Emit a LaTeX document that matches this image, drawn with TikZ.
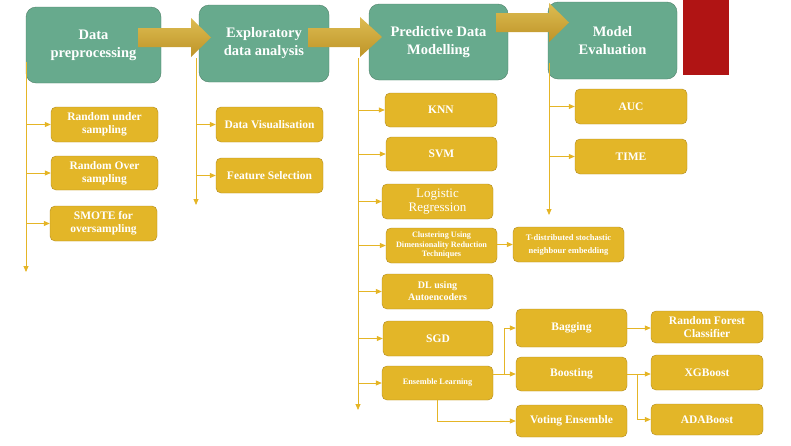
\documentclass[tikz,border=0pt]{standalone}
\usepackage{fontspec}
\setmainfont{Liberation Serif}
\usetikzlibrary{arrows.meta}
\definecolor{boxgreen}{HTML}{67AA8D}
\definecolor{greenline}{HTML}{4F8068}
\definecolor{boxgold}{HTML}{E3B628}
\definecolor{goldline}{HTML}{B08A20}
\definecolor{flowgold}{HTML}{E5B526}
\definecolor{arrowtop}{HTML}{DDBC52}
\definecolor{arrowbot}{HTML}{BE9427}
\definecolor{boxred}{HTML}{B01414}

\begin{document}
\begin{tikzpicture}[x=1pt,y=-1pt,
	mainbox/.style={draw=greenline,fill=boxgreen,rounded corners=10pt,text=white,font=\fontsize{14.5}{18}\selectfont\bfseries,align=center,inner sep=2pt},
	subbox/.style={draw=goldline,fill=boxgold,rounded corners=5pt,text=white,font=\fontsize{11.5}{13}\selectfont\bfseries,align=center,inner sep=1pt},
	flow/.style={draw=flowgold,line width=0.8pt,-{Triangle[length=6pt,width=5pt]}}]
			\useasboundingbox (0,0) rectangle (791,445);
			%draw main steps
			\node[mainbox,minimum width=135pt,minimum height=76pt] (dp) at (93.5,45) {Data\\preprocessing};
			\node[mainbox,minimum width=130pt,minimum height=77pt] (eda) at (264,43.5) {Exploratory\\data analysis};
			\node[mainbox,minimum width=139pt,minimum height=76pt] (pdm) at (438.5,42) {Predictive Data\\Modelling};
			\node[mainbox,minimum width=129pt,minimum height=77pt] (me) at (612.5,40.5) {Model\\Evaluation};
			\fill[boxred] (683,0) rectangle (729,75);
			%draw block arrows
			\shade[top color=arrowtop,bottom color=arrowbot] (138,28) -- (191,28) -- (191,18) -- (211,37.5) -- (191,57) -- (191,47) -- (138,47) -- cycle;
			\shade[top color=arrowtop,bottom color=arrowbot] (308,28) -- (360,28) -- (360,17) -- (382,37) -- (360,57) -- (360,47) -- (308,47) -- cycle;
			\shade[top color=arrowtop,bottom color=arrowbot] (496,13) -- (549,13) -- (549,3) -- (569,22.5) -- (549,42) -- (549,32) -- (496,32) -- cycle;
			%draw sub steps
			\node[subbox,minimum width=107pt,minimum height=35pt] (rus) at (104.5,124.5) {Random under\\sampling};
			\node[subbox,minimum width=107pt,minimum height=34pt] (ros) at (104.5,173) {Random Over\\sampling};
			\node[subbox,minimum width=107pt,minimum height=35pt] (smote) at (103.5,223.5) {SMOTE for\\oversampling};
			\node[subbox,minimum width=107pt,minimum height=35pt] (dv) at (269.5,124.5) {Data Visualisation};
			\node[subbox,minimum width=107pt,minimum height=35pt] (fs) at (269.5,175.5) {Feature Selection};
			\node[subbox,minimum width=112pt,minimum height=34pt] (knn) at (441,110) {KNN};
			\node[subbox,minimum width=111pt,minimum height=34pt] (svm) at (441.5,154) {SVM};
			\node[subbox,minimum width=111pt,minimum height=35pt,font=\fontsize{13}{14}\selectfont] (lr) at (437.5,201.5) {Logistic\\Regression};
			\node[subbox,minimum width=111pt,minimum height=35pt,font=\fontsize{8.2}{9.5}\selectfont\bfseries] (clu) at (441.5,245.5) {Clustering Using\\Dimensionality Reduction\\Techniques};
			\node[subbox,minimum width=111pt,minimum height=35pt,font=\fontsize{8.5}{13}\selectfont\bfseries] (tsne) at (568.5,244.5) {T-distributed stochastic\\neighbour embedding};
			\node[subbox,minimum width=111pt,minimum height=35pt,font=\fontsize{10}{12}\selectfont\bfseries] (dl) at (437.5,291.5) {DL using\\Autoencoders};
			\node[subbox,minimum width=110pt,minimum height=35pt] (sgd) at (438,338.5) {SGD};
			\node[subbox,minimum width=111pt,minimum height=34pt,font=\fontsize{8.3}{9}\selectfont\bfseries] (ens) at (437.5,383) {Ensemble Learning};
			\node[subbox,minimum width=111pt,minimum height=38pt] (bag) at (571.5,328) {Bagging};
			\node[subbox,minimum width=111pt,minimum height=34pt] (boost) at (571.5,374) {Boosting};
			\node[subbox,minimum width=111pt,minimum height=32pt] (vote) at (571.5,421) {Voting Ensemble};
			\node[subbox,minimum width=112pt,minimum height=32pt] (rf) at (707,327) {Random Forest\\Classifier};
			\node[subbox,minimum width=112pt,minimum height=35pt] (xgb) at (707,372.5) {XGBoost};
			\node[subbox,minimum width=112pt,minimum height=31pt] (ada) at (707,419.5) {ADABoost};
			\node[subbox,minimum width=112pt,minimum height=35pt] (auc) at (631,106.5) {AUC};
			\node[subbox,minimum width=112pt,minimum height=35pt] (time) at (631,156.5) {TIME};
			%draw vertical lines
			\coordinate (dptop) at (26,62); \coordinate (dpend) at (26,272);
			\coordinate (edatop) at (196,58); \coordinate (edaend) at (196,205);
			\coordinate (pdmtop) at (358,58); \coordinate (pdmend) at (358,410);
			\coordinate (metop) at (549,63); \coordinate (meend) at (549,215);
			\draw[flow] (dptop) -- (dpend);
			\draw[flow] (edatop) -- (edaend);
			\draw[flow] (pdmtop) -- (pdmend);
			\draw[flow] (metop) -- (meend);
			%draw branch arrows
			\foreach \b in {rus, ros, smote}{
				\draw[flow] (dptop |- \b.west) -- (\b.west);
			}
			\foreach \b in {dv, fs}{
				\draw[flow] (edatop |- \b.west) -- (\b.west);
			}
			\foreach \b in {knn, svm, lr, clu, dl, sgd, ens}{
				\draw[flow] (pdmtop |- \b.west) -- (\b.west);
			}
			\foreach \b in {auc, time}{
				\draw[flow] (metop |- \b.west) -- (\b.west);
			}
			%draw model links
			\draw[flow] (clu.east |- tsne.west) -- (tsne.west);
			\coordinate (ensfork) at (504,374);
			\draw[flow] (ens.east |- boost.west) -- (boost.west);
			\draw[flow] (ensfork) |- (bag.west);
			\draw[flow] (ens.south) |- (vote.west);
			\draw[flow] (bag.east) -- (bag.east -| rf.west);
			\coordinate (boostfork) at (637,374);
			\draw[flow] (boost.east) -- (boost.east -| xgb.west);
			\draw[flow] (boostfork) |- (ada.west);
			\end{tikzpicture}
\end{document}
